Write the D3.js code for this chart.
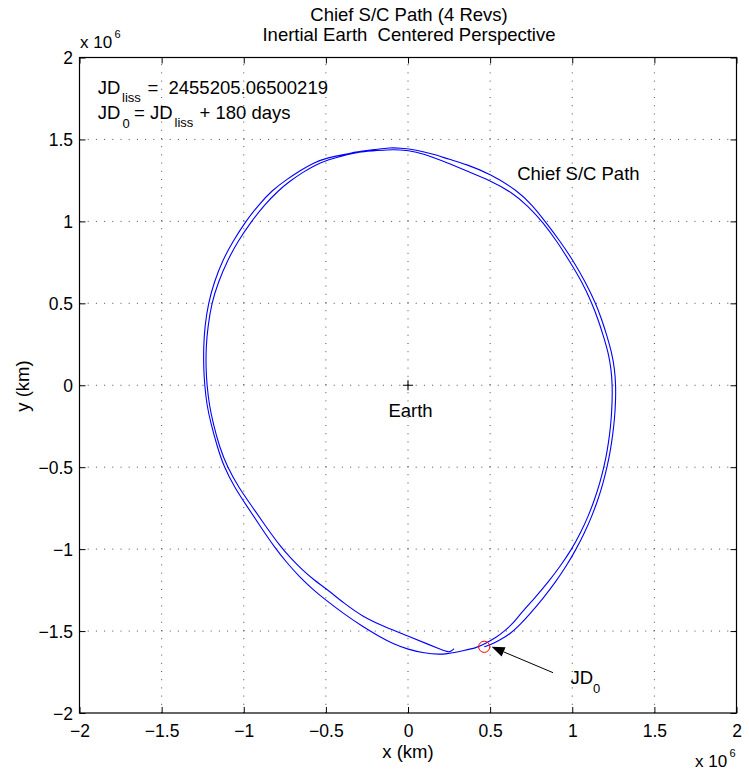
<!DOCTYPE html>
<html>
<head>
<meta charset="utf-8">
<script src="https://cdn.jsdelivr.net/npm/d3@7"></script>
<style>
  body { margin: 0; background: #fff; }
  text { font-family: "Liberation Sans", Arial, Helvetica, sans-serif; fill: #000; }
</style>
</head>
<body>
<svg id="chart" width="749" height="774"></svg>
<script>
// ---- data (positions in units of 10^6 km) ----
const xTicks = [-2, -1.5, -1, -0.5, 0, 0.5, 1, 1.5, 2];
const yTicks = [-2, -1.5, -1, -0.5, 0, 0.5, 1, 1.5, 2];
const xTickLabels = ["\u22122", "\u22121.5", "\u22121", "\u22120.5", "0", "0.5", "1", "1.5", "2"];
const yTickLabels = ["\u22122", "\u22121.5", "\u22121", "\u22120.5", "0", "0.5", "1", "1.5", "2"];

// first pair of revolutions, starting at JD0
const revA = [
  [0.464, -1.596], [0.505, -1.582], [0.555, -1.558], [0.625, -1.515], [0.683, -1.46],
  [0.738, -1.4], [0.823, -1.3], [0.899, -1.2], [0.966, -1.1], [1.024, -1.0],
  [1.075, -0.9], [1.119, -0.8], [1.156, -0.7], [1.187, -0.6], [1.212, -0.5],
  [1.232, -0.4], [1.247, -0.3], [1.258, -0.2], [1.264, -0.1], [1.265, 0.0],
  [1.258, 0.1], [1.24, 0.2], [1.212, 0.3], [1.18, 0.4], [1.143, 0.5],
  [1.08, 0.63], [1.006, 0.76], [0.925, 0.88], [0.835, 1.0], [0.755, 1.1],
  [0.67, 1.185], [0.5, 1.29], [0.35, 1.35], [0.253, 1.378], [0.154, 1.41],
  [0.05, 1.437], [-0.05, 1.448], [-0.109, 1.45], [-0.208, 1.437], [-0.28, 1.43],
  [-0.33, 1.422], [-0.37, 1.41], [-0.49, 1.39], [-0.58, 1.355], [-0.655, 1.311],
  [-0.74, 1.255], [-0.828, 1.189], [-0.91, 1.1], [-0.988, 1.0], [-1.065, 0.88],
  [-1.13, 0.76], [-1.18, 0.63], [-1.216, 0.5], [-1.237, 0.36], [-1.245, 0.233],
  [-1.244, 0.1], [-1.238, 0.0], [-1.225, -0.12], [-1.2, -0.234], [-1.163, -0.37],
  [-1.12, -0.5], [-1.055, -0.625], [-0.978, -0.742], [-0.9, -0.86], [-0.812, -0.99],
  [-0.74, -1.08], [-0.66, -1.17], [-0.58, -1.245], [-0.5, -1.312], [-0.39, -1.395],
  [-0.28, -1.47], [-0.18, -1.53], [-0.09, -1.578], [0.0, -1.612], [0.1, -1.635],
  [0.194, -1.643], [0.24, -1.638], [0.28, -1.632], [0.336, -1.62], [0.417, -1.602],
  [0.467, -1.578]
];

// second pair of revolutions, ending near the bottom of the orbit
const revB = [
  [0.537, -1.539], [0.585, -1.502], [0.638, -1.455], [0.68, -1.4], [0.77, -1.3],
  [0.855, -1.2], [0.93, -1.1], [0.997, -1.0], [1.051, -0.9], [1.097, -0.8],
  [1.135, -0.7], [1.167, -0.6], [1.193, -0.5], [1.213, -0.4], [1.228, -0.3],
  [1.238, -0.2], [1.243, -0.1], [1.244, 0.0], [1.237, 0.1], [1.219, 0.2],
  [1.19, 0.3], [1.158, 0.4], [1.12, 0.5], [1.06, 0.63], [0.982, 0.76],
  [0.905, 0.88], [0.825, 0.99], [0.73, 1.095], [0.628, 1.18], [0.5, 1.25],
  [0.35, 1.31], [0.253, 1.352], [0.154, 1.39], [0.05, 1.425], [-0.05, 1.438],
  [-0.13, 1.437], [-0.22, 1.43], [-0.3, 1.424], [-0.36, 1.41], [-0.49, 1.376],
  [-0.57, 1.34], [-0.64, 1.3], [-0.72, 1.245], [-0.79, 1.187], [-0.875, 1.1],
  [-0.953, 1.0], [-1.035, 0.88], [-1.10, 0.76], [-1.155, 0.63], [-1.196, 0.5],
  [-1.218, 0.36], [-1.23, 0.233], [-1.23, 0.1], [-1.224, 0.0], [-1.21, -0.12],
  [-1.186, -0.234], [-1.15, -0.37], [-1.10, -0.5], [-1.03, -0.625], [-0.948, -0.742],
  [-0.87, -0.855], [-0.78, -0.98], [-0.71, -1.06], [-0.64, -1.13], [-0.57, -1.19],
  [-0.5, -1.24], [-0.39, -1.33], [-0.28, -1.41], [-0.14, -1.475], [0.0, -1.53],
  [0.133, -1.585], [0.19, -1.608], [0.225, -1.622], [0.248, -1.628], [0.265, -1.621],
  [0.28, -1.608]
];

const earthPos = [0, 0];
const jd0Pos = [0.464, -1.596];
const arrowTail = [0.883, -1.754];
const arrowTip = [0.509, -1.596];
const titleLines = ["Chief S/C Path (4 Revs)", "Inertial Earth  Centered Perspective"];
const jdLiss = "2455205.06500219";
const jdOffsetDays = 180;

// ---- layout ----
const svg = d3.select("#chart");
const plot = { left: 79.5, right: 736.5, top: 57.5, bottom: 713 };
const x = d3.scaleLinear().domain([-2, 2]).range([plot.left, plot.right]);
const y = d3.scaleLinear().domain([-2, 2]).range([plot.bottom, plot.top]);
const fontMain = 18.5, fontTick = 17.5, fontSub = 13;

// dotted grid
const grid = svg.append("g").attr("stroke", "#3a3a3a").attr("stroke-width", 0.9)
  .attr("stroke-dasharray", "1,7.2");
xTicks.slice(1, -1).forEach(v => {
  grid.append("line").attr("x1", x(v)).attr("x2", x(v))
    .attr("y1", plot.bottom).attr("y2", plot.top);
});
yTicks.slice(1, -1).forEach(v => {
  grid.append("line").attr("x1", plot.left).attr("x2", plot.right)
    .attr("y1", y(v)).attr("y2", y(v));
});

// axes with inward ticks on all four sides
const tickLen = 6;
const axB = svg.append("g").attr("transform", `translate(0,${plot.bottom})`)
  .call(d3.axisBottom(x).tickValues(xTicks).tickSizeInner(-tickLen).tickSizeOuter(0)
    .tickFormat((d, i) => xTickLabels[i]));
const axT = svg.append("g").attr("transform", `translate(0,${plot.top})`)
  .call(d3.axisTop(x).tickValues(xTicks).tickSizeInner(-tickLen).tickSizeOuter(0).tickFormat(""));
const axL = svg.append("g").attr("transform", `translate(${plot.left},0)`)
  .call(d3.axisLeft(y).tickValues(yTicks).tickSizeInner(-tickLen).tickSizeOuter(0)
    .tickFormat((d, i) => yTickLabels[i]));
const axR = svg.append("g").attr("transform", `translate(${plot.right},0)`)
  .call(d3.axisRight(y).tickValues(yTicks).tickSizeInner(-tickLen).tickSizeOuter(0).tickFormat(""));
[axB, axT, axL, axR].forEach(g => {
  g.select(".domain").remove();
  g.selectAll(".tick line").attr("stroke", "#000").attr("stroke-width", 1);
});
axB.selectAll(".tick text").attr("font-size", fontTick).attr("font-family", null)
  .attr("y", 23.5).attr("dy", null).attr("fill", "#000");
axL.selectAll(".tick text").attr("font-size", fontTick).attr("font-family", null)
  .attr("x", -6.5).attr("dy", "6.3").attr("fill", "#000");

// box
svg.append("rect").attr("x", plot.left).attr("y", plot.top)
  .attr("width", plot.right - plot.left).attr("height", plot.bottom - plot.top)
  .attr("fill", "none").attr("stroke", "#000").attr("stroke-width", 1.2);

// orbit path
const line = d3.line().x(d => x(d[0])).y(d => y(d[1])).curve(d3.curveBasis);
svg.append("path").datum(revA.concat(revB)).attr("d", line)
  .attr("fill", "none").attr("stroke", "#0000ff").attr("stroke-width", 1.1)
  .attr("stroke-linejoin", "round");

// Earth marker
const ex = x(earthPos[0]), ey = y(earthPos[1]);
svg.append("path").attr("d", `M${ex - 5},${ey}H${ex + 5}M${ex},${ey - 5}V${ey + 5}`)
  .attr("stroke", "#000").attr("stroke-width", 1.1);
svg.append("text").attr("x", ex + 2.5).attr("y", ey + 31.5).attr("text-anchor", "middle")
  .attr("font-size", fontMain).text("Earth");

// JD0 marker and arrow
svg.append("circle").attr("cx", x(jd0Pos[0])).attr("cy", y(jd0Pos[1])).attr("r", 5.6)
  .attr("fill", "none").attr("stroke", "#ff0000").attr("stroke-width", 1);
{
  const tx = x(arrowTail[0]), ty = y(arrowTail[1]);
  const hx = x(arrowTip[0]), hy = y(arrowTip[1]);
  const ang = Math.atan2(hy - ty, hx - tx);
  const L = 13, W = 5;
  const bx = hx - L * Math.cos(ang), by = hy - L * Math.sin(ang);
  svg.append("line").attr("x1", tx).attr("y1", ty).attr("x2", bx).attr("y2", by)
    .attr("stroke", "#000").attr("stroke-width", 1);
  const px = -Math.sin(ang) * W, py = Math.cos(ang) * W;
  svg.append("path").attr("d", `M${hx},${hy}L${bx + px},${by + py}L${bx - px},${by - py}Z`)
    .attr("fill", "#000");
}
{
  const t = svg.append("text").attr("font-size", fontMain);
  t.append("tspan").attr("x", 570.5).attr("y", 684).text("JD");
  t.append("tspan").attr("x", 593).attr("y", 693.3).attr("font-size", fontSub).text("0");
}

// path label
svg.append("text").attr("x", x(0.665)).attr("y", y(1.254)).attr("font-size", fontMain)
  .text("Chief S/C Path");

// epoch annotation
{
  const t1 = svg.append("text").attr("font-size", fontMain);
  t1.append("tspan").attr("x", 97.7).attr("y", 94.3).text("JD");
  t1.append("tspan").attr("x", 122).attr("y", 101.5).attr("font-size", fontSub).text("liss");
  t1.append("tspan").attr("x", 147.5).attr("y", 94.3).text("=");
  t1.append("tspan").attr("x", 168.5).attr("y", 94.3).text(jdLiss);
  const t2 = svg.append("text").attr("font-size", fontMain);
  t2.append("tspan").attr("x", 97.7).attr("y", 119.3).text("JD");
  t2.append("tspan").attr("x", 122.5).attr("y", 128.3).attr("font-size", fontSub).text("0");
  t2.append("tspan").attr("x", 134).attr("y", 119.3).text("= JD");
  t2.append("tspan").attr("x", 174.5).attr("y", 126.5).attr("font-size", fontSub).text("liss");
  t2.append("tspan").attr("x", 199.5).attr("y", 119.3).text(`+ ${jdOffsetDays} days`);
}

// titles
titleLines.forEach((s, i) => {
  svg.append("text").attr("x", 409).attr("y", 20.7 + i * 20).attr("text-anchor", "middle")
    .attr("font-size", fontMain).style("white-space", "pre").text(s);
});

// axis labels
svg.append("text").attr("x", 408).attr("y", 758).attr("text-anchor", "middle")
  .attr("font-size", fontMain).text("x (km)");
svg.append("text").attr("transform", "translate(29,386) rotate(-90)").attr("text-anchor", "middle")
  .attr("font-size", fontMain).text("y (km)");

// exponent labels
function exponent(xp, yp) {
  const t = svg.append("text").attr("font-size", 17);
  t.append("tspan").attr("x", xp).attr("y", yp).text("x 10");
  t.append("tspan").attr("x", xp + 34.5).attr("y", yp - 10).attr("font-size", 11).text("6");
}
exponent(80, 48.3);
exponent(695, 766.7);
</script>
</body>
</html>
